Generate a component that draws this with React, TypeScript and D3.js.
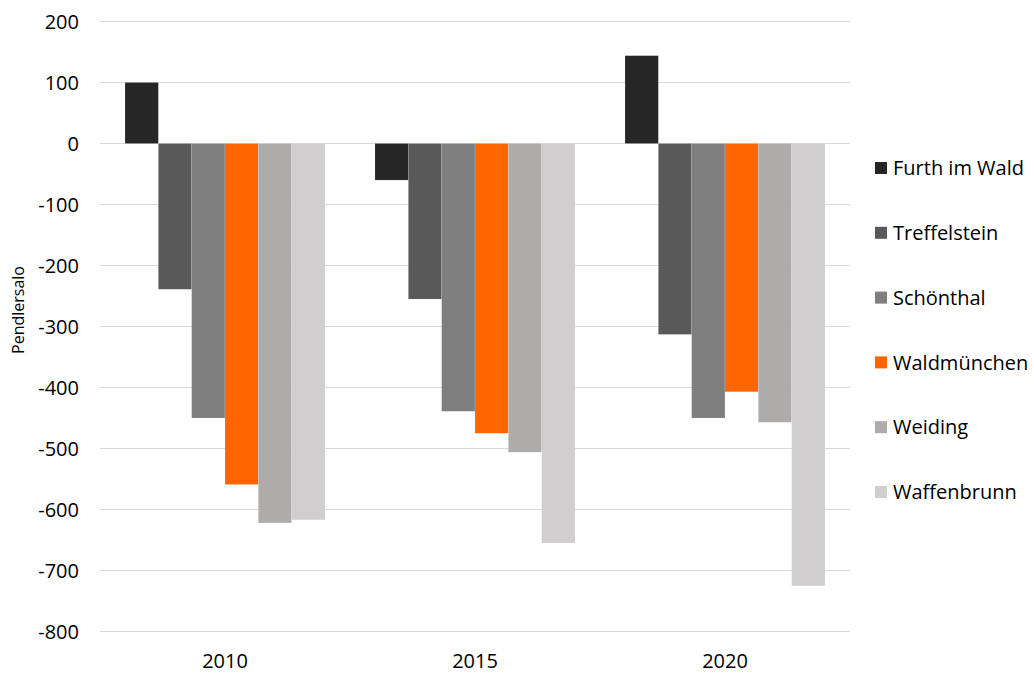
import React from "react";
import * as d3 from "d3";

const years = ["2010", "2015", "2020"];
const seriesNames = ["Furth im Wald", "Treffelstein", "Schönthal", "Waldmünchen", "Weiding", "Waffenbrunn"];
const seriesColors = ["#262626", "#595959", "#7f7f7f", "#ff6600", "#aeabab", "#d0cece"];
const furth = [100, -60, 144];
const treffelstein = [-239, -255, -313];
const schoenthal = [-450, -439, -450];
const waldmuenchen = [-559, -475, -407];
const weiding = [-622, -506, -457];
const waffenbrunn = [-617, -655, -725];
const yTicks = [200, 100, 0, -100, -200, -300, -400, -500, -600, -700, -800];
const yTitle = "Pendlersalo";

const seriesValues = [furth, treffelstein, schoenthal, waldmuenchen, weiding, waffenbrunn];

export default function App() {
  const W = 1034, H = 673;
  const left = 100, right = 850, top = 21.5, bottom = 631.5;
  const font = "Open Sans, sans-serif";
  const y = d3.scaleLinear().domain([200, -800]).range([top, bottom]);
  const x0 = d3.scaleBand().domain(years).range([left, right]).paddingInner(0.2).paddingOuter(0.1);
  const x1 = d3.scaleBand().domain(seriesNames).range([0, x0.bandwidth()]);

  return (
    <svg width={W} height={H} style={{ position: "absolute", left: 0, top: 0, background: "#fff" }}>
      {yTicks.map((t) => (
        <g key={t}>
          <line x1={left} x2={right} y1={y(t)} y2={y(t)} stroke="#d9d9d9" strokeWidth={1} />
          <text x={79} y={y(t)} dy="0.36em" textAnchor="end" fontFamily={font} fontSize={20} fill="#000">
            {t}
          </text>
        </g>
      ))}
      {years.map((yr, i) => (
        <g key={yr} transform={`translate(${x0(yr)},0)`}>
          {seriesNames.map((s, j) => {
            const v = seriesValues[j][i];
            return (
              <rect
                key={s}
                x={x1(s)}
                width={x1.bandwidth()}
                y={Math.min(y(v), y(0))}
                height={Math.abs(y(v) - y(0))}
                fill={seriesColors[j]}
                stroke="#ffffff"
                strokeOpacity={0.25}
                strokeWidth={0.5}
              />
            );
          })}
          <text x={x0.bandwidth() / 2} y={668} textAnchor="middle" fontFamily={font} fontSize={20} fill="#000">
            {yr}
          </text>
        </g>
      ))}
      <text
        transform={`translate(24,310) rotate(-90)`}
        textAnchor="middle"
        fontFamily={font}
        fontSize={16}
        fill="#000"
      >
        {yTitle}
      </text>
      {seriesNames.map((s, j) => {
        const ly = 168 + j * 64.8;
        return (
          <g key={s}>
            <rect x={875} y={ly - 6} width={12} height={12} fill={seriesColors[j]} />
            <text x={893} y={ly} dy="0.36em" fontFamily={font} fontSize={20} fill="#000">
              {s}
            </text>
          </g>
        );
      })}
    </svg>
  );
}
